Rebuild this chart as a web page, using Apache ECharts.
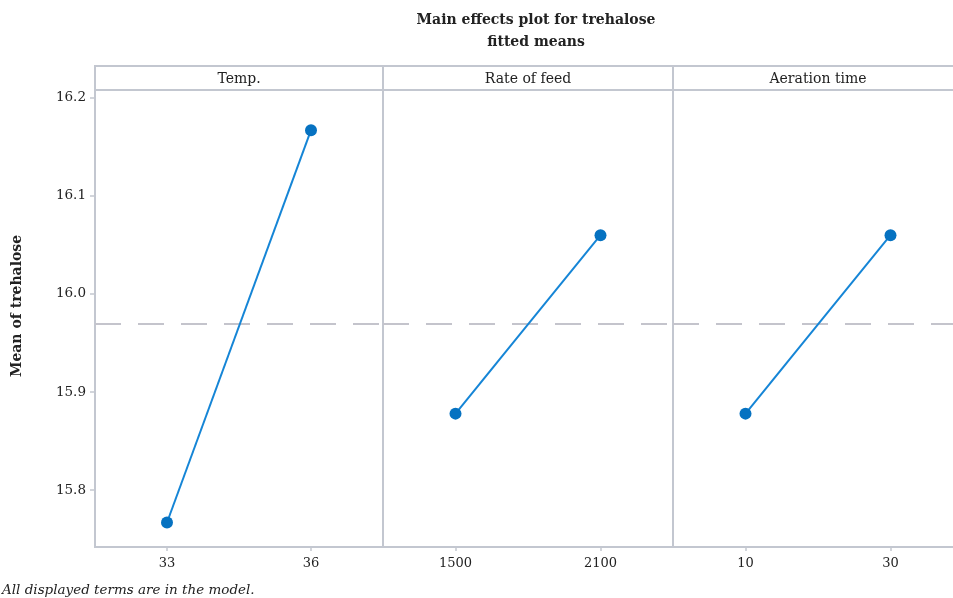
<!DOCTYPE html>
<html>
<head>
<meta charset="utf-8">
<title>Main effects plot for trehalose</title>
<script src="https://cdn.jsdelivr.net/npm/echarts@6/dist/echarts.min.js"></script>
<style>
  html, body { margin: 0; padding: 0; background: #ffffff; }
  #chart { width: 953px; height: 598px; }
</style>
</head>
<body>
<div id="chart"></div>
<script>
// Factor panels and their level labels
const factors = ['Temp.', 'Rate of feed', 'Aeration time'];
const tempLevels = ['33', '36'];
const feedLevels = ['1500', '2100'];
const aerationLevels = ['10', '30'];

// Fitted means of trehalose at each level
const tempMeans = [15.767, 16.167];
const feedMeans = [15.878, 16.060];
const aerationMeans = [15.878, 16.060];

// Overall mean (reference line)
const grandMean = 15.967;

// Y axis range and tick labels
const yMin = 15.742;
const yMax = 16.208;
const yTicks = [15.8, 15.9, 16.0, 16.1, 16.2];

const FONT = '"DejaVu Serif", "Liberation Serif", serif';
const FRAME = '#c3c7d0';
const LINE = '#1585d6';
const DOT = '#0672c1';
const INK = '#222222';

const levels = [tempLevels, feedLevels, aerationLevels];
const means = [tempMeans, feedMeans, aerationMeans];

const panels = [
  { left: 95, width: 288 },
  { left: 383, width: 290 },
  { left: 673, width: 290 }
];
const plotTop = 90, plotHeight = 457, stripTop = 66;

const chart = echarts.init(document.getElementById('chart'), null, { renderer: 'canvas' });

const grids = panels.map(p => ({
  left: p.left, top: plotTop, width: p.width, height: plotHeight,
  outerBoundsMode: 'none', containLabel: false,
  show: true, borderColor: FRAME, borderWidth: 2, backgroundColor: 'transparent'
}));

const xAxes = levels.map((lv, i) => ({
  type: 'category', gridIndex: i, data: lv, boundaryGap: true,
  axisLine: { show: false },
  axisTick: { show: true, alignWithLabel: true, length: 4, lineStyle: { color: FRAME, width: 1.5 } },
  axisLabel: { color: INK, fontFamily: FONT, fontSize: 13, margin: 10 }
}));

const yAxes = panels.map((p, i) => ({
  type: 'value', gridIndex: i, min: yMin, max: yMax,
  splitLine: { show: false },
  axisLine: { show: false },
  axisTick: { show: i === 0, length: 5, customValues: yTicks, lineStyle: { color: FRAME, width: 1.5 } },
  axisLabel: {
    show: i === 0, customValues: yTicks, color: INK, fontFamily: FONT, fontSize: 13.5, margin: 9,
    formatter: v => v.toFixed(1)
  }
}));

const series = means.map((m, i) => ({
  type: 'line', xAxisIndex: i, yAxisIndex: i, data: m,
  symbol: 'circle', symbolSize: 12,
  itemStyle: { color: DOT },
  lineStyle: { color: LINE, width: 2 },
  silent: true, z: 3,
  markLine: {
    silent: true, symbol: 'none', label: { show: false },
    lineStyle: { color: '#c4c4cc', width: 2, type: [26, 17] },
    data: [{ yAxis: grandMean }], z: 1
  }
}));

const graphics = [];
panels.forEach((p, i) => {
  graphics.push({
    type: 'rect', shape: { x: p.left, y: stripTop, width: p.width, height: plotTop - stripTop },
    style: { fill: '#ffffff', stroke: FRAME, lineWidth: 2 }, z: 10
  });
  graphics.push({
    type: 'text', x: p.left + p.width / 2, y: (stripTop + plotTop) / 2 + 1,
    style: { text: factors[i], fontFamily: FONT, fontSize: 14, fill: INK, align: 'center', verticalAlign: 'middle' },
    z: 11
  });
});
// y-axis title
graphics.push({
  type: 'text', x: 17, y: 306, rotation: Math.PI / 2,
  style: { text: 'Mean of trehalose', fontFamily: FONT, fontWeight: 'bold', fontSize: 14, fill: INK, align: 'center', verticalAlign: 'middle' }
});
// footnote
graphics.push({
  type: 'text', x: 2, y: 590,
  style: { text: 'All displayed terms are in the model.', fontFamily: FONT, fontStyle: 'italic', fontSize: 13.5, fill: INK, verticalAlign: 'middle' }
});
// chart title
graphics.push({
  type: 'text', x: 536, y: 20,
  style: { text: 'Main effects plot for trehalose', fontFamily: FONT, fontWeight: 'bold', fontSize: 14, fill: INK, align: 'center', verticalAlign: 'middle' }
});
graphics.push({
  type: 'text', x: 536, y: 42,
  style: { text: 'fitted means', fontFamily: FONT, fontWeight: 'bold', fontSize: 14, fill: INK, align: 'center', verticalAlign: 'middle' }
});

chart.setOption({
  animation: false,
  grid: grids,
  xAxis: xAxes,
  yAxis: yAxes,
  series: series,
  graphic: graphics
});
</script>
</body>
</html>
